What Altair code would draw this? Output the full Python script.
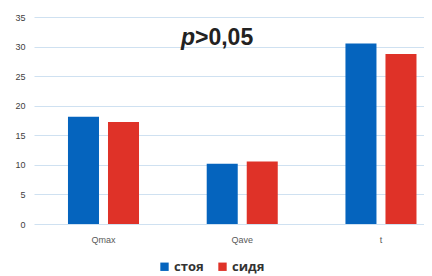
import altair as alt
import pandas as pd

categories = ["Qmax", "Qave", "t"]
series = ["стоя", "сидя"]
standing = [18.15, 10.2, 30.5]
sitting = [17.25, 10.55, 28.75]
y_ticks = [0, 5, 10, 15, 20, 25, 30, 35]
colors = ["#0564BE", "#DF3228"]
p_label = "p"
p_rest = ">0,05"

rows = []
for i, c in enumerate(categories):
    rows.append({"cat": c, "series": series[0], "value": standing[i]})
    rows.append({"cat": c, "series": series[1], "value": sitting[i]})
df = pd.DataFrame(rows)

bars = alt.Chart(df).mark_bar().encode(
    x=alt.X("cat:N", sort=categories, title=None,
            scale=alt.Scale(paddingInner=0.488, paddingOuter=0.1495, align=0.819),
            axis=alt.Axis(labelAngle=0, domain=False, ticks=False, labelPadding=11,
                          labelFontSize=9, labelColor="#595959", labelFont="Liberation Sans")),
    xOffset=alt.XOffset("series:N", sort=series,
                        scale=alt.Scale(domain=series, paddingInner=0.225, paddingOuter=0)),
    y=alt.Y("value:Q", title=None,
            scale=alt.Scale(domain=[0, 35], nice=False),
            axis=alt.Axis(values=y_ticks, domain=False, ticks=False, labelPadding=9,
                          labelFontSize=9, labelColor="#404040", labelFont="Liberation Sans",
                          gridColor="#cfe1f1", gridWidth=1)),
    color=alt.Color("series:N", sort=series,
                    scale=alt.Scale(domain=series, range=colors),
                    legend=alt.Legend(title=None, orient="none", direction="horizontal",
                                      legendX=124, legendY=243, symbolType="square",
                                      symbolSize=70, symbolStrokeWidth=0, labelFontSize=13,
                                      labelFontWeight="bold", labelFont="Open Sans",
                                      labelColor="#333333", columnPadding=12,
                                      labelOffset=3, padding=0)),
)

p_text = alt.Chart(pd.DataFrame({"t": [p_label]})).mark_text(
    align="right", baseline="alphabetic", fontSize=23, fontWeight="bold",
    fontStyle="italic", font="Liberation Sans", color="#222222"
).encode(text="t:N", x=alt.value(161), y=alt.value(28))

rest_text = alt.Chart(pd.DataFrame({"t": [p_rest]})).mark_text(
    align="left", baseline="alphabetic", fontSize=23, fontWeight="bold",
    font="Liberation Sans", color="#222222"
).encode(text="t:N", x=alt.value(161), y=alt.value(28))

chart = alt.layer(bars, p_text, rest_text).properties(
    width=390, height=207,
    autosize=alt.AutoSizeParams(type="none"),
    padding={"left": 26, "top": 9, "right": 0, "bottom": 52},
).configure_view(stroke=None)

chart.save("out.html", embed_options={"renderer": "svg", "actions": False})
